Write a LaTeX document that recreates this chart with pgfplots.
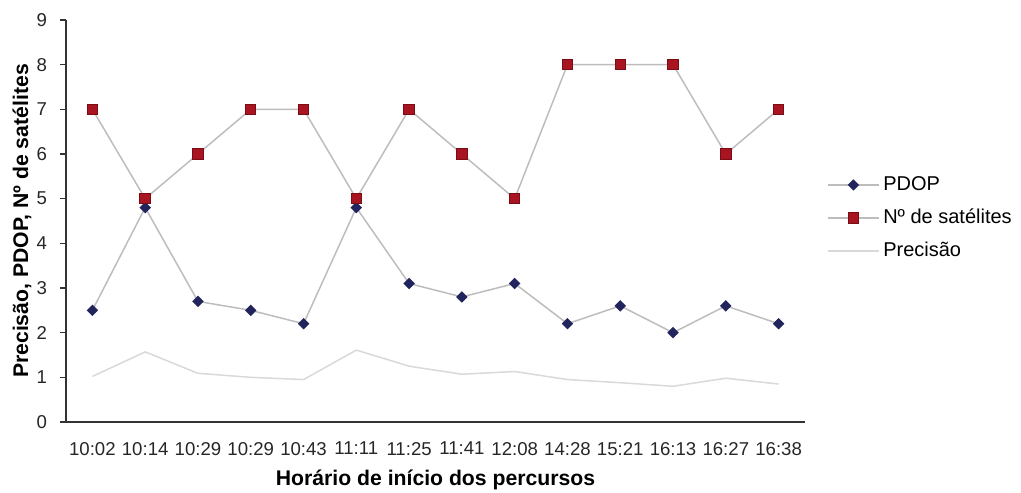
\documentclass[border=0pt]{standalone}
\usepackage{pgfplots}
\pgfplotsset{compat=1.18}
\usepackage{fontspec}
\setmainfont{Liberation Sans}

\definecolor{pdopblue}{HTML}{22245E}
\definecolor{satred}{HTML}{A8141F}
\definecolor{satedge}{HTML}{7A0C16}
\definecolor{linegray}{HTML}{BDBDBD}
\definecolor{precgray}{HTML}{D9D9D9}
\definecolor{axisgray}{HTML}{333333}

\begin{document}
\begin{tikzpicture}
\useasboundingbox (-33pt,-35pt) rectangle (477.5pt,211pt);
\begin{axis}[
  at={(0pt,0pt)}, anchor=south west,
  scale only axis,
  width=369.5pt, height=201pt,
  xmin=-0.5, xmax=13.5,
  ymin=0, ymax=9,
  axis x line*=bottom,
  axis y line*=left,
  axis line style={axisgray, line width=0.6pt},
  tick align=outside,
  major tick length=3pt,
  /pgf/number format/assume math mode=true,
  xtick={0,...,13},
  xticklabels={10:02,10:14,10:29,10:29,10:43,11:11,11:25,11:41,12:08,14:28,15:21,16:13,16:27,16:38},
  x tick style={draw=none},
  extra x ticks={-0.5,0.5,...,13.5},
  extra x tick labels={},
  extra x tick style={tick style={draw=axisgray, line width=0.6pt}},
  ytick={0,...,9},
  y tick style={axisgray, line width=0.6pt},
  ticklabel style={font=\fontsize{9.3}{10}\selectfont, text=black!85},
  xticklabel style={yshift=-3.5pt},
  yticklabel style={xshift=-3pt},
  xlabel={\textbf{Horário de início dos percursos}},
  ylabel={\textbf{Precisão, PDOP, Nº de satélites}},
  label style={font=\fontsize{10.6}{12}\selectfont},
  xlabel style={at={(axis description cs:0.5,0)}, anchor=center, yshift=-29pt},
  ylabel style={at={(axis description cs:0,0.5)}, anchor=center, yshift=22pt},
  legend style={at={(rel axis cs:1.022,0.507)}, anchor=west, draw=none, fill=none,
    font=\fontsize{10}{12}\selectfont, row sep=3.8pt},
  legend cell align=left,
  legend image code/.code={
    \draw[#1, mark repeat=2, mark phase=2] plot coordinates {(0cm,0cm) (0.44cm,0cm) (0.88cm,0cm)};
  },
]
\addplot[linegray, line width=0.75pt, mark=square*, mark size=1.65pt,
  mark options={draw=pdopblue, fill=pdopblue, solid, rotate=45}]
  coordinates {(0,2.5) (1,4.8) (2,2.7) (3,2.5) (4,2.2) (5,4.8) (6,3.1) (7,2.8) (8,3.1) (9,2.2) (10,2.6) (11,2.0) (12,2.6) (13,2.2)};
\addlegendentry{PDOP}
\addplot[linegray, line width=0.75pt, mark=square*, mark size=2.6pt,
  mark options={draw=satedge, fill=satred, line width=0.5pt, solid}]
  coordinates {(0,7) (1,5) (2,6) (3,7) (4,7) (5,5) (6,7) (7,6) (8,5) (9,8) (10,8) (11,8) (12,6) (13,7)};
\addlegendentry{Nº de satélites}
\addplot[precgray, line width=0.75pt, mark=none]
  coordinates {(0,1.02) (1,1.57) (2,1.09) (3,1.0) (4,0.95) (5,1.61) (6,1.25) (7,1.07) (8,1.13) (9,0.95) (10,0.88) (11,0.8) (12,0.98) (13,0.85)};
\addlegendentry{Precisão}
\end{axis}
\end{tikzpicture}
\end{document}
